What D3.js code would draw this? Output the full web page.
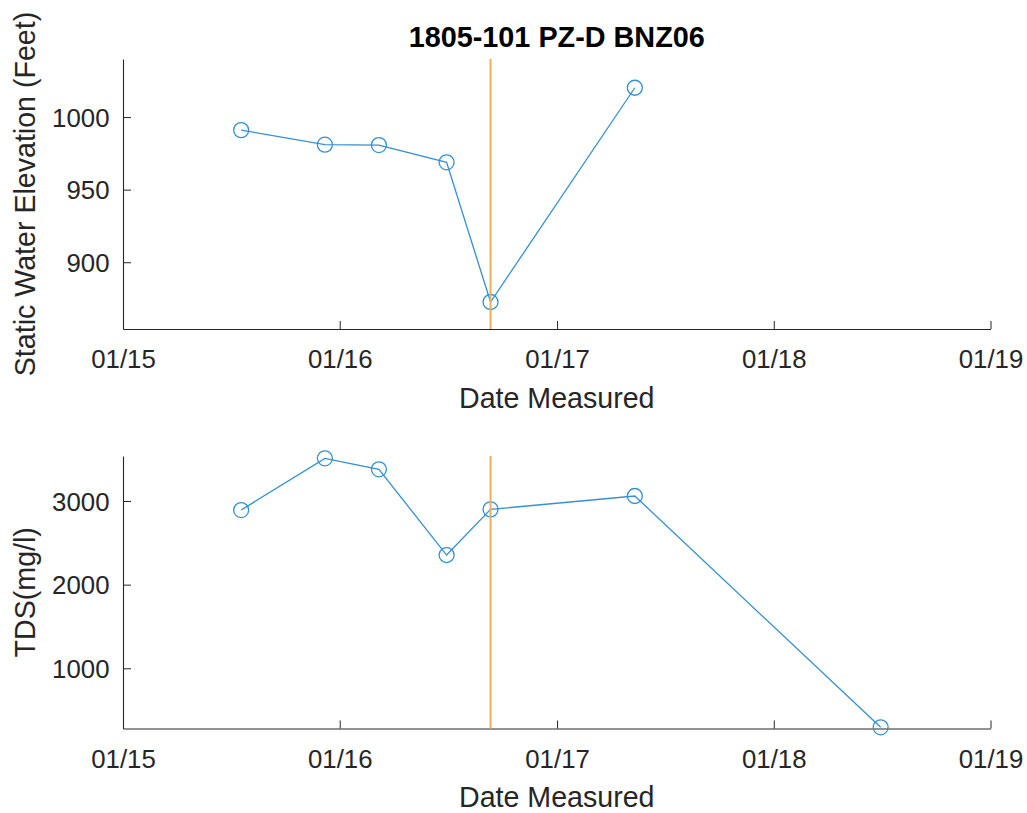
<!DOCTYPE html>
<html>
<head>
<meta charset="utf-8">
<script src="https://cdn.jsdelivr.net/npm/d3@7"></script>
<style>
  html, body { margin: 0; padding: 0; background: #fff; }
  text { font-family: "Liberation Sans", Arial, Helvetica, sans-serif; fill: #262626; }
</style>
</head>
<body>
<svg id="chart" width="1027" height="813"></svg>
<script>
// ---- data ----
const chartTitle = "1805-101 PZ-D BNZ06";
const elevDates = ["2015-07-19", "2015-12-07", "2016-03-07", "2016-06-29", "2016-09-11", "2017-05-12"];
const elevValues = [991, 981, 980.7, 968.8, 872.6, 1020.2];
const tdsDates = ["2015-07-19", "2015-12-07", "2016-03-07", "2016-06-29", "2016-09-11", "2017-05-12", "2018-06-30"];
const tdsValues = [2892, 3510, 3379, 2354, 2900, 3060, 294];
const markerDate = "2016-09-11";
const xTickDates = ["2015-01-01", "2016-01-01", "2017-01-01", "2018-01-01", "2019-01-01"];
const elevTicks = [900, 950, 1000];
const tdsTicks = [1000, 2000, 3000];
const elevDomain = [854, 1040];
const tdsDomain = [280, 3538];

// ---- drawing ----
const parse = d3.timeParse("%Y-%m-%d");
const svg = d3.select("#chart");
const left = 123, right = 990.5;
const fmt = d3.timeFormat("%m/%y");
const axisColor = "#262626";
const lineColor = "#3490D4";
const vColor = "#ECAE5A";
const tickLen = 8;

const x = d3.scaleTime()
  .domain([parse(xTickDates[0]), parse(xTickDates[xTickDates.length - 1])])
  .range([left, right]);

function panel(cfg) {
  const y = d3.scaleLinear().domain(cfg.domain).range([cfg.bottom, cfg.top]);
  const g = svg.append("g");

  // x axis
  const xa = g.append("g").attr("transform", `translate(0,${cfg.bottom})`)
    .call(d3.axisBottom(x).tickValues(xTickDates.map(parse)).tickFormat(fmt)
      .tickSizeInner(-tickLen).tickSizeOuter(0).tickPadding(0));
  xa.select(".domain").attr("stroke", axisColor).attr("stroke-width", 1.1);
  xa.selectAll(".tick line").attr("stroke", axisColor);
  xa.selectAll(".tick text").attr("font-size", "25.8px").attr("fill", axisColor)
    .attr("y", 39).attr("dy", 0);

  // y axis
  const ya = g.append("g").attr("transform", `translate(${left},0)`)
    .call(d3.axisLeft(y).tickValues(cfg.ticks).tickFormat(d3.format("d"))
      .tickSizeInner(-tickLen).tickSizeOuter(0).tickPadding(0));
  ya.select(".domain").attr("stroke", axisColor).attr("stroke-width", 1.1);
  ya.selectAll(".tick line").attr("stroke", axisColor);
  ya.selectAll(".tick text").attr("font-size", "25.8px").attr("fill", axisColor)
    .attr("x", -13.5).attr("dy", "0.35em");

  // data line
  const pts = cfg.dates.map((d, i) => ({ d: parse(d), v: cfg.values[i] }));
  g.append("path").datum(pts)
    .attr("fill", "none").attr("stroke", lineColor).attr("stroke-width", 1.3)
    .attr("d", d3.line().x(p => x(p.d)).y(p => y(p.v)));
  g.selectAll("circle.m").data(pts).enter().append("circle")
    .attr("class", "m")
    .attr("cx", p => x(p.d)).attr("cy", p => y(p.v)).attr("r", 7.5)
    .attr("fill", "none").attr("stroke", lineColor).attr("stroke-width", 1.3);

  // vertical marker line
  g.append("line")
    .attr("x1", x(parse(markerDate))).attr("x2", x(parse(markerDate)))
    .attr("y1", y(cfg.domain[1])).attr("y2", y(cfg.domain[0]))
    .attr("stroke", vColor).attr("stroke-width", 2);

  // labels
  g.append("text").attr("x", (left + right) / 2).attr("y", cfg.bottom + 78.5)
    .attr("text-anchor", "middle").attr("font-size", "28.6px").text("Date Measured");
  g.append("text")
    .attr("transform", `translate(35,${(cfg.top + cfg.bottom) / 2}) rotate(-90)`)
    .attr("text-anchor", "middle").attr("font-size", "28.6px").text(cfg.ylabel);
}

panel({ top: 59, bottom: 329, domain: elevDomain, ticks: elevTicks,
        dates: elevDates, values: elevValues, ylabel: "Static Water Elevation (Feet)" });
panel({ top: 456, bottom: 728.5, domain: tdsDomain, ticks: tdsTicks,
        dates: tdsDates, values: tdsValues, ylabel: "TDS(mg/l)" });

svg.append("text").attr("x", (left + right) / 2).attr("y", 47.3)
  .attr("text-anchor", "middle").attr("font-size", "28.8px").attr("font-weight", "bold")
  .style("fill", "#000").text(chartTitle);
</script>
</body>
</html>
